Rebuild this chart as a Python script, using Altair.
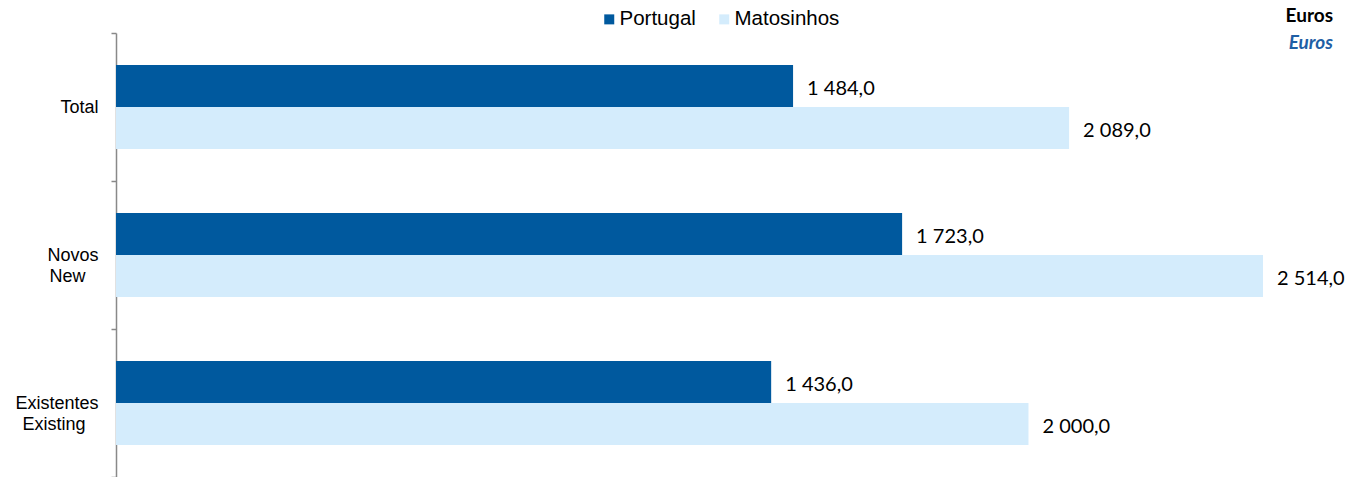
import altair as alt
import pandas as pd

categories = ["Total", "Novos\nNew", "Existentes\nExisting"]
series = ["Portugal", "Matosinhos"]
portugal = [1484.0, 1723.0, 1436.0]
matosinhos = [2089.0, 2514.0, 2000.0]
colors = ["#00599E", "#D4ECFC"]


def fmt(v):
    return f"{v:,.1f}".replace(",", " ").replace(".", ",")


rows = []
for c, p, m in zip(categories, portugal, matosinhos):
    rows.append({"cat": c, "serie": "Portugal", "value": p, "lbl": fmt(p)})
    rows.append({"cat": c, "serie": "Matosinhos", "value": m, "lbl": fmt(m)})
df = pd.DataFrame(rows)

W, H = 1147, 444

base = alt.Chart(df)

# shorter second lines get a blank trailing glyph so each two-line label
# reads centred inside a right-aligned block, as in the original
label_expr = (
    "split(replace(replace(datum.label, 'Existing', 'Existing\u2800'), "
    "'New', 'New\u2800'), '\\n')"
)

y_enc = alt.Y(
    "cat:N",
    sort=categories,
    scale=alt.Scale(paddingInner=0, paddingOuter=0),
    axis=alt.Axis(
        title=None,
        labelExpr=label_expr,
        labelFont="Liberation Sans",
        labelFontSize=18,
        labelColor="#000000",
        labelLineHeight=21,
        labelAlign="right",
        labelPadding=13,
        tickBand="extent",
        tickSize=5,
        tickColor="#898989",
        tickWidth=1.5,
        domainColor="#898989",
        domainWidth=1.5,
    ),
)
yoff = alt.YOffset(
    "serie:N",
    sort=series,
    scale=alt.Scale(paddingInner=0, paddingOuter=0.76),
)
x_enc = alt.X(
    "value:Q",
    scale=alt.Scale(domain=[0, 2514], nice=False, zero=True),
    axis=None,
)

bars = base.mark_bar().encode(
    y=y_enc,
    yOffset=yoff,
    x=x_enc,
    color=alt.Color(
        "serie:N",
        sort=series,
        scale=alt.Scale(domain=series, range=colors),
        legend=alt.Legend(
            title=None,
            orient="none",
            legendX=483,
            legendY=-24,
            direction="horizontal",
            symbolType="square",
            symbolSize=100,
            symbolStrokeWidth=0,
            labelFont="Liberation Sans",
            labelFontSize=20.5,
            labelColor="#000000",
            columnPadding=18,
            labelOffset=0,
        ),
    ),
)

labels = base.mark_text(
    align="left", baseline="middle", dx=14, dy=3, font="Lato", fontSize=20, color="#000000"
).encode(
    y=alt.Y("cat:N", sort=categories),
    yOffset=alt.YOffset("serie:N", sort=series),
    x="value:Q",
    text="lbl:N",
)

unit = alt.Chart(alt.Data(values=[{"t": "Euros"}]))
euros1 = unit.mark_text(
    align="right", baseline="middle", font="Lato", fontSize=19, fontWeight="bold", color="#000000"
).encode(x=alt.value(1217), y=alt.value(-17), text="t:N")
euros2 = unit.mark_text(
    align="right", baseline="middle", font="Lato", fontSize=19, fontWeight="bold",
    fontStyle="italic", color="#1F5FA5"
).encode(x=alt.value(1217), y=alt.value(10), text="t:N")

chart = alt.layer(bars, labels, euros1, euros2).properties(
    width=W,
    height=H,
    background="#FFFFFF",
    autosize=alt.AutoSizeParams(type="none"),
    padding={"left": 116, "top": 33, "right": 87, "bottom": 0},
).configure_view(stroke=None)

chart.save("out.html", embed_options={"renderer": "svg", "actions": False})
